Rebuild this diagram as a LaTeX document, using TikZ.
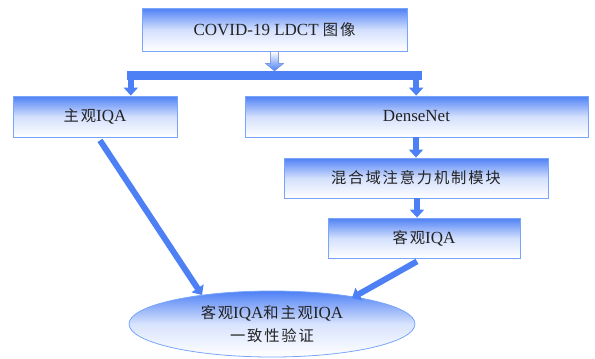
\documentclass[tikz,border=0pt]{standalone}
\usepackage{fontspec}
\setmainfont{Liberation Serif}
\newfontfamily\cjk[LetterSpace=12,Scale=0.9]{Noto Sans CJK SC}
\usetikzlibrary{arrows.meta,shapes.geometric,calc}
\definecolor{bblue}{RGB}{78,128,245}
\definecolor{bedge}{RGB}{120,165,250}
\definecolor{txt}{RGB}{35,35,35}
\tikzset{
  boxnode/.style={draw=bedge,line width=0.8pt,top color=bblue,bottom color=white,middle color=bblue!25,
    minimum height=41pt,inner sep=0pt,text=txt,font=\fontsize{17}{20}\selectfont},
  blockarrow/.style={draw=bblue,line width=6pt,-{Triangle[width=14pt,length=8pt]}},
}
\begin{document}
\begin{tikzpicture}[x=1pt,y=-1pt]
\useasboundingbox (0,0) rectangle (595,359);
% boxes
\node[boxnode,minimum width=265pt,minimum height=43pt] (top) at (274.5,29.5) {COVID-19 LDCT {\cjk 图像}};
\node[boxnode,minimum width=164pt] (left) at (95,116.5) {{\cjk 主观}IQA};
\node[boxnode,minimum width=343pt] (dense) at (416.5,116.5) {DenseNet};
\node[boxnode,minimum width=264pt,minimum height=40pt] (mix) at (416,178) {{\cjk 混合域注意力机制模块}};
\node[boxnode,minimum width=192pt,minimum height=40pt] (obj) at (424,238) {{\cjk 客观}IQA};
\node[ellipse,draw=bedge,line width=0.8pt,top color=bblue,bottom color=white,middle color=bblue!22,
  minimum width=286pt,minimum height=66pt,inner sep=0pt,text=txt,align=center,
  font=\fontsize{17}{23}\selectfont] (ell) at (272,324) {{\cjk 客观}IQA{\cjk 和主观}IQA\\{\cjk 一致性验证}};
% horizontal bar
\node[fill=bblue,minimum width=295pt,minimum height=9pt,inner sep=0pt] (bar) at (274.5,75.5) {};
% hollow arrow from top box to bar
\fill[top color=white,bottom color=bblue,draw=bblue!80,line width=0.5pt]
  ($(top.south)+(-4,0)$) -- ($(top.south)+(4,0)$) -- ($(top.south)+(4,12)$) -- ($(top.south)+(9,12)$)
  -- ($(bar.north)+(0,0)$) -- ($(top.south)+(-9,12)$) -- ($(top.south)+(-4,12)$) -- cycle;
% arrows from bar
\coordinate (bl) at ($(bar.south west)+(4,-1)$);
\coordinate (br) at ($(bar.south east)+(-6,-1)$);
\draw[blockarrow] (bl) -- (bl |- left.north);
\draw[blockarrow] (br) -- (br |- dense.north);
% chain
\draw[blockarrow] (dense.south -| mix.north) -- (mix.north);
\draw[blockarrow] (mix.south -| 417,0) -- (417,0 |- obj.north);
% diagonal arrows
\draw[blockarrow] ($(left.south)+(5,3)$) -- ($(ell.center)+(-70,-29)$);
\draw[blockarrow] ($(obj.south)+(-7,3)$) -- ($(ell.center)+(80,-26)$);
\end{tikzpicture}
\end{document}
